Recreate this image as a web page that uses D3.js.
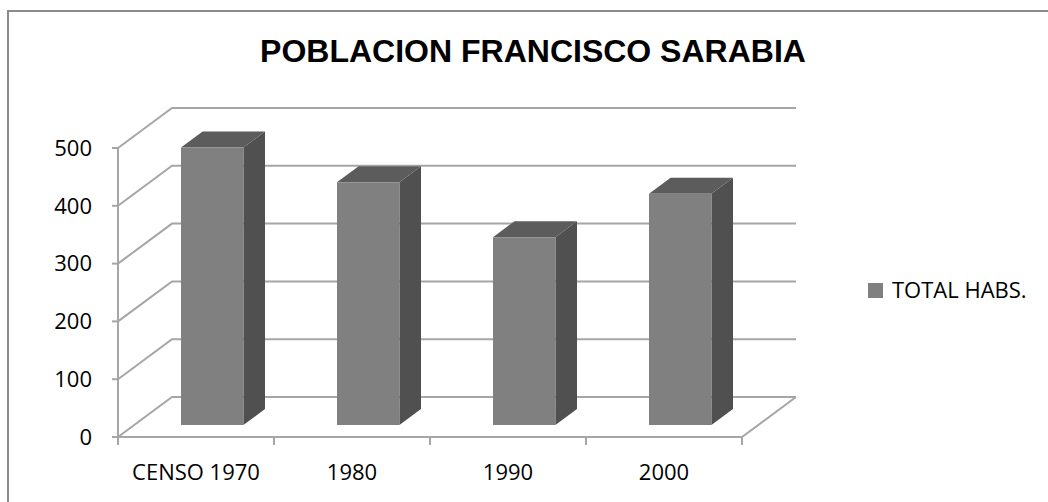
<!DOCTYPE html>
<html lang="es">
<head>
    <meta charset="UTF-8">
    <title>Poblacion Francisco Sarabia</title>
    <script src="https://d3js.org/d3.v7.min.js"></script>
    <style>
        body { margin: 0; background: #fff; }
        svg { display: block; }
    </style>
</head>
<body>
    <svg id="chart" width="1048" height="502"></svg>

    <script>
        // datos
        const categories = ["CENSO 1970", "1980", "1990", "2000"];
        const totalHabs = [480, 420, 325, 400];
        const yTicks = [0, 100, 200, 300, 400, 500];
        const seriesName = "TOTAL HABS.";
        const title = "POBLACION FRANCISCO SARABIA";

        const svg = d3.select("#chart");

        // plano frontal y profundidad (efecto 3D)
        const plotLeft = 118, plotRight = 742, plotBottom = 437, plotTop = 148;
        const depthX = 54, depthY = -40;
        const barD0 = 0.3, barD1 = 0.7;

        const x = d3.scaleBand().domain(categories).range([plotLeft, plotRight]);
        const y = d3.scaleLinear().domain([0, 500]).range([plotBottom, plotTop]);

        const proj = (xf, v, d) => [xf + d * depthX, y(v) + d * depthY];
        const poly = pts => "M" + pts.map(p => p.join(",")).join("L") + "Z";

        // marco
        svg.append("path")
            .attr("d", "M8,502 L8,11 L1048,11")
            .attr("fill", "none")
            .attr("stroke", "#8c8c8c")
            .attr("stroke-width", 2);

        // titulo
        svg.append("text")
            .attr("x", 533)
            .attr("y", 62)
            .attr("text-anchor", "middle")
            .attr("font-family", "Liberation Sans, Arial, sans-serif")
            .attr("font-weight", "bold")
            .attr("font-size", 32)
            .text(title);

        // lineas de cuadricula (pared trasera + lateral)
        const grid = svg.append("g")
            .attr("fill", "none")
            .attr("stroke", "#a6a6a6")
            .attr("stroke-width", 2);

        yTicks.forEach(t => {
            const a = proj(plotLeft, t, 0), b = proj(plotLeft, t, 1), c = proj(plotRight, t, 1);
            grid.append("path").attr("d", "M" + a + "L" + b + "L" + c);
        });

        // piso
        const f0 = proj(plotLeft, 0, 0), f1 = proj(plotRight, 0, 0), f2 = proj(plotRight, 0, 1);
        grid.append("path").attr("d", "M" + f0 + "L" + f1 + "L" + f2);

        // eje y frontal
        const axis = svg.append("g")
            .attr("stroke", "#a6a6a6")
            .attr("stroke-width", 2)
            .attr("fill", "none");
        axis.append("line")
            .attr("x1", plotLeft).attr("x2", plotLeft)
            .attr("y1", y(500)).attr("y2", y(0));
        yTicks.forEach(t => {
            axis.append("line")
                .attr("x1", plotLeft - 6).attr("x2", plotLeft)
                .attr("y1", y(t)).attr("y2", y(t));
        });
        // marcas de categoria
        categories.concat([null]).forEach(c => {
            const xx = c === null ? plotRight : x(c);
            axis.append("line")
                .attr("x1", xx).attr("x2", xx)
                .attr("y1", plotBottom).attr("y2", plotBottom + 8);
        });

        // barras
        const bw = x.bandwidth() * 0.4;
        const bars = svg.append("g");
        categories.forEach((c, i) => {
            const v = totalHabs[i];
            const x0 = x(c) + (x.bandwidth() - bw) / 2, x1 = x0 + bw;
            // lado
            bars.append("path")
                .attr("d", poly([proj(x1, 0, barD0), proj(x1, v, barD0), proj(x1, v, barD1), proj(x1, 0, barD1)]))
                .attr("fill", "#505050");
            // tapa
            bars.append("path")
                .attr("d", poly([proj(x0, v, barD0), proj(x1, v, barD0), proj(x1, v, barD1), proj(x0, v, barD1)]))
                .attr("fill", "#5c5c5c");
            // frente
            bars.append("path")
                .attr("d", poly([proj(x0, 0, barD0), proj(x1, 0, barD0), proj(x1, v, barD0), proj(x0, v, barD0)]))
                .attr("fill", "#808080");
        });

        // etiquetas
        const labelFont = "Open Sans, Calibri, sans-serif";
        svg.append("g").selectAll("text")
            .data(yTicks)
            .join("text")
            .attr("x", 92)
            .attr("y", d => y(d))
            .attr("dy", "0.35em")
            .attr("text-anchor", "end")
            .attr("font-family", labelFont)
            .attr("font-size", 22)
            .text(d => d);

        svg.append("g").selectAll("text")
            .data(categories)
            .join("text")
            .attr("x", d => x(d) + x.bandwidth() / 2)
            .attr("y", 472)
            .attr("dy", "0.35em")
            .attr("text-anchor", "middle")
            .attr("font-family", labelFont)
            .attr("font-size", 22)
            .text(d => d);

        // leyenda
        svg.append("rect")
            .attr("x", 868).attr("y", 283)
            .attr("width", 15).attr("height", 15)
            .attr("fill", "#808080");
        svg.append("text")
            .attr("x", 892)
            .attr("y", 290.5)
            .attr("dy", "0.35em")
            .attr("font-family", labelFont)
            .attr("font-size", 22)
            .text(seriesName);
    </script>
</body>
</html>
